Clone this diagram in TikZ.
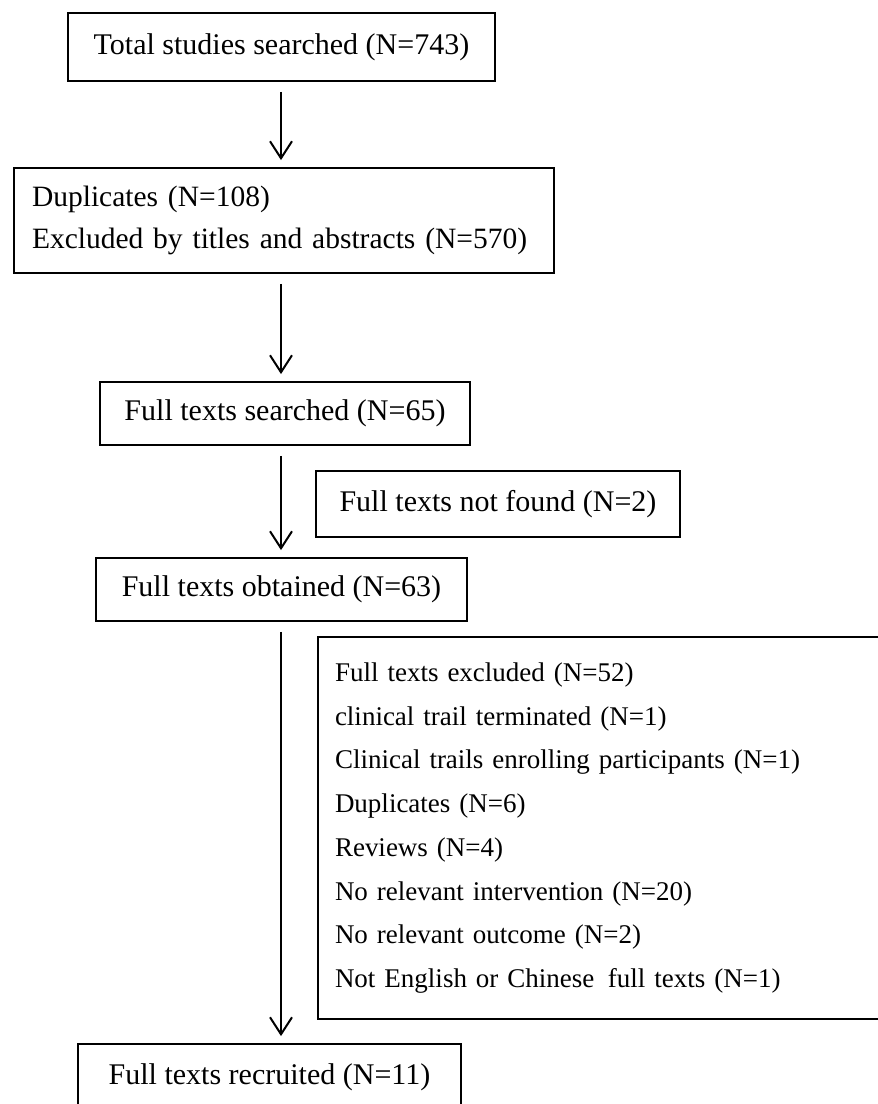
\documentclass[tikz,border=0pt]{standalone}
\usepackage{fontspec}
\setmainfont{Liberation Serif}
\usetikzlibrary{arrows.meta}
\begin{document}
\begin{tikzpicture}[x=1pt,y=-1pt,every node/.style={font=\fontsize{30}{43}\selectfont},
  box/.style={draw,line width=1.8pt,inner sep=0pt,minimum height=#1},box/.default=63pt,
  flow/.style={-{Straight Barb[length=17pt,width=22pt]},line width=2pt,shorten <=10pt,shorten >=7pt}]
\useasboundingbox (0,0) rectangle (878,1104);
\coordinate (spine) at (281,0);
\node[box=105pt,text width=504pt,inner xsep=18pt,align=left,font=\fontsize{29.5}{42}\selectfont] (screened) at (284,220.5) {Duplicates (N=108)\\ Excluded by titles and abstracts (N=570)};
\node[box=68pt,minimum width=427pt] (total) at (281.5,47) {Total studies searched (N=743)};
\node[box,minimum width=370pt] (searched) at (285,413.5) {Full texts searched (N=65)};
\node[box=66pt,minimum width=364pt] (notfound) at (498,504) {Full texts not found (N=2)};
\node[box,minimum width=371pt] (obtained) at (281.5,589.5) {Full texts obtained (N=63)};
\node[box=382pt,text width=528pt,inner xsep=17pt,align=left,font=\fontsize{27}{43.7}\selectfont] (excluded) at (599,828)
  {Full texts excluded (N=52)\\ clinical trail terminated (N=1)\\ Clinical trails enrolling participants (N=1)\\ Duplicates (N=6)\\ Reviews (N=4)\\ No relevant intervention (N=20)\\ No relevant outcome (N=2)\\ Not English or Chinese\, full texts (N=1)};
\node[box=66pt,minimum width=383pt] (recruited) at (269.5,1077) {Full texts recruited (N=11)};
\draw[flow] (total.south -| spine) -- (screened.north -| spine);
\draw[flow] (screened.south -| spine) -- (searched.north -| spine);
\draw[flow] (searched.south -| spine) -- (obtained.north -| spine);
\draw[flow] (obtained.south -| spine) -- (recruited.north -| spine);
\end{tikzpicture}
\end{document}
